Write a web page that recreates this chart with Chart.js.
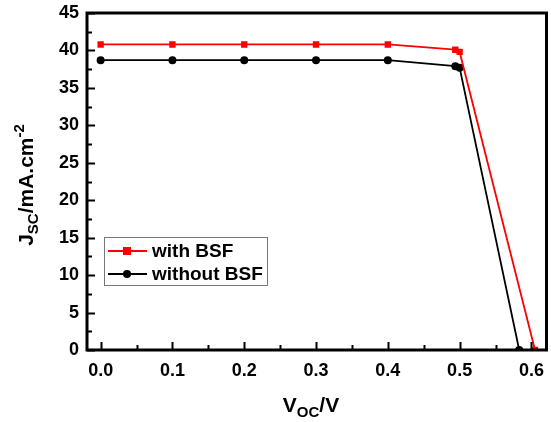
<!DOCTYPE html>
<html>
<head>
<meta charset="utf-8">
<script src="https://cdn.jsdelivr.net/npm/chart.js@4"></script>
<style>
  html, body { margin: 0; padding: 0; background: #fff; }
  #wrap { width: 551px; height: 422px; }
</style>
</head>
<body>
<div id="wrap"><canvas id="ivChart" width="551" height="422"></canvas></div>
<script>
// J-V data
const withBsfV = [0.0, 0.1, 0.2, 0.3, 0.4, 0.494, 0.5, 0.605];
const withBsfJ = [40.8, 40.8, 40.8, 40.8, 40.8, 40.1, 39.8, 0.0];
const withoutBsfV = [0.0, 0.1, 0.2, 0.3, 0.4, 0.494, 0.5, 0.583];
const withoutBsfJ = [38.7, 38.7, 38.7, 38.7, 38.7, 37.9, 37.7, 0.0];

const xTicks = [0.0, 0.1, 0.2, 0.3, 0.4, 0.5, 0.6];
const yTicks = [0, 5, 10, 15, 20, 25, 30, 35, 40, 45];
const seriesLabels = ['with BSF', 'without BSF'];

const FONT = "'Liberation Sans', Arial, sans-serif";

// where the plot frame sits in the reference
const target = { left: 87, top: 13, right: 548, bottom: 350 };

function toPoints(xs, ys) {
    return xs.map((x, i) => ({ x: x, y: ys[i] }));
}

// draw text made of parts with sub/superscripts, centred on cx
function drawParts(ctx, parts, cx, by) {
    let total = 0;
    parts.forEach(p => { ctx.font = p[1]; total += ctx.measureText(p[0]).width; });
    let x = cx - total / 2;
    parts.forEach(p => {
        ctx.font = p[1];
        ctx.fillText(p[0], x, by + p[2]);
        x += ctx.measureText(p[0]).width;
    });
}

// frame, inward ticks, axis titles and the legend box
const framePlugin = {
    id: 'frame',
    afterDraw(chart) {
        const ctx = chart.ctx;
        const area = chart.chartArea;
        const xs = chart.scales.x;
        const ys = chart.scales.y;
        ctx.save();

        // ticks (major + minor) pointing inwards
        ctx.strokeStyle = '#000';
        ctx.lineWidth = 2;
        ctx.beginPath();
        for (let i = 0; i <= 12; i++) {
            const px = Math.round(xs.getPixelForValue(i * 0.05)) + 0.5;
            const len = (i % 2 === 0) ? 8 : 5;
            ctx.moveTo(px, area.bottom);
            ctx.lineTo(px, area.bottom - len);
        }
        for (let i = 0; i <= 18; i++) {
            const py = Math.round(ys.getPixelForValue(i * 2.5)) + 0.5;
            const len = (i % 2 === 0) ? 8 : 5;
            ctx.moveTo(area.left, py);
            ctx.lineTo(area.left + len, py);
        }
        ctx.stroke();

        // plot frame
        ctx.lineWidth = 3;
        ctx.strokeRect(area.left, area.top, area.right - area.left, area.bottom - area.top);

        // axis titles
        ctx.fillStyle = '#000';
        ctx.textBaseline = 'alphabetic';
        const big = 'bold 21px ' + FONT;
        const small = 'bold 15px ' + FONT;
        drawParts(ctx, [['V', big, 0], ['OC', small, 5], ['/V', big, 0]], 311, 412);

        ctx.save();
        ctx.translate(33, 185);
        ctx.rotate(-Math.PI / 2);
        drawParts(ctx, [['J', big, 0], ['SC', small, 5], ['/mA.cm', big, 0], ['-2', small, -9]], 0, 0);
        ctx.restore();

        // legend
        const lx = 104, ly = 237, lw = 163, lh = 48;
        ctx.fillStyle = '#fff';
        ctx.fillRect(lx, ly, lw, lh);
        ctx.strokeStyle = '#777';
        ctx.lineWidth = 1;
        ctx.strokeRect(lx + 0.5, ly + 0.5, lw, lh);
        const rows = [
            { y: 251, color: '#ff0000', style: 'rect' },
            { y: 274, color: '#000000', style: 'circle' }
        ];
        rows.forEach((r, i) => {
            ctx.strokeStyle = r.color;
            ctx.lineWidth = 1.8;
            ctx.beginPath();
            ctx.moveTo(108, r.y);
            ctx.lineTo(147, r.y);
            ctx.stroke();
            ctx.fillStyle = r.color;
            if (r.style === 'rect') {
                ctx.fillRect(123, r.y - 4, 8, 8);
            } else {
                ctx.beginPath();
                ctx.arc(127, r.y, 4, 0, Math.PI * 2);
                ctx.fill();
            }
            ctx.fillStyle = '#000';
            ctx.font = 'bold 19px ' + FONT;
            ctx.textBaseline = 'middle';
            ctx.fillText(seriesLabels[i], 152, r.y + 1);
        });

        ctx.restore();
    }
};

const ctx = document.getElementById('ivChart');
const chart = new Chart(ctx, {
    type: 'scatter',
    data: {
        datasets: [
            {
                label: seriesLabels[0],
                data: toPoints(withBsfV, withBsfJ),
                showLine: true,
                borderColor: '#ff0000',
                backgroundColor: '#ff0000',
                borderWidth: 1.8,
                pointStyle: 'rect',
                pointRadius: 4.5,
                pointBorderWidth: 0
            },
            {
                label: seriesLabels[1],
                data: toPoints(withoutBsfV, withoutBsfJ),
                showLine: true,
                borderColor: '#000000',
                backgroundColor: '#000000',
                borderWidth: 1.8,
                pointStyle: 'circle',
                pointRadius: 4,
                pointBorderWidth: 0
            }
        ]
    },
    options: {
        responsive: false,
        animation: false,
        layout: { padding: { top: 13, right: 3, left: 0, bottom: 0 } },
        plugins: {
            legend: { display: false },
            tooltip: { enabled: false }
        },
        scales: {
            x: {
                type: 'linear',
                min: -0.019,
                max: 0.621,
                grid: { display: false, drawTicks: false },
                border: { display: false },
                afterBuildTicks: (scale) => { scale.ticks = xTicks.map(v => ({ value: v })); },
                afterFit: (scale) => {
                    scale.height = 72;
                    scale.paddingLeft = 0;
                    scale.paddingRight = 0;
                },
                ticks: {
                    padding: 10,
                    color: '#000',
                    maxRotation: 0,
                    font: { family: FONT, size: 18, weight: 'bold' },
                    callback: (v) => v.toFixed(1)
                }
            },
            y: {
                min: 0,
                max: 45,
                grid: { display: false, drawTicks: false },
                border: { display: false },
                afterBuildTicks: (scale) => { scale.ticks = yTicks.map(v => ({ value: v })); },
                afterFit: (scale) => {
                    scale.width = 87;
                    scale.paddingTop = 0;
                    scale.paddingBottom = 0;
                },
                ticks: {
                    padding: 8,
                    color: '#000',
                    font: { family: FONT, size: 18, weight: 'bold' }
                }
            }
        }
    },
    plugins: [framePlugin]
});

// nudge the layout padding so the plot frame lands where the reference has it
const pad = chart.options.layout.padding;
const area = chart.chartArea;
pad.top += target.top - area.top;
pad.left += target.left - area.left;
pad.right += area.right - target.right;
pad.bottom += area.bottom - target.bottom;
chart.update();
</script>
</body>
</html>
